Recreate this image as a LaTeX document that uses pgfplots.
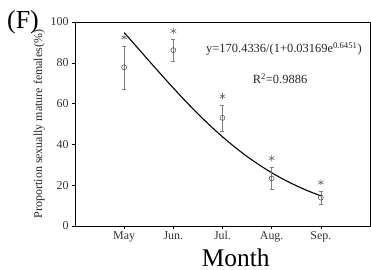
\documentclass[border=0pt]{standalone}
\usepackage{fontspec}
\setmainfont{Liberation Serif}
\usepackage{pgfplots}
\pgfplotsset{compat=1.18}
\begin{document}
\begin{tikzpicture}
\useasboundingbox (-75bp,-44bp) rectangle (296bp,226bp);
\begin{axis}[
  at={(0,0)}, anchor=south west,
  scale only axis, width=295bp, height=204bp,
  xmin=-1, xmax=5, ymin=0, ymax=100,
  xtick={0,1,2,3,4},
  xticklabels={May,Jun.,Jul.,Aug.,Sep.},
  ytick={0,20,40,60,80,100},
  tick align=outside, major tick length=3bp,
  xtick pos=bottom, ytick pos=left,
  axis line style={line width=0.8pt},
  tick style={black, line width=0.6pt},
  ticklabel style={font=\fontsize{12}{14}\selectfont, text=black!80},
  xticklabel style={yshift=1bp},
  /pgf/number format/assume math mode=true,
  xlabel={Month},
  xlabel style={font=\fontsize{25.5}{28}\selectfont, at={(axis description cs:0.545,0)}, anchor=base, yshift=-40bp, inner sep=0pt},
  ylabel={Proportion sexually mature females(\%)},
  ylabel style={font=\fontsize{12}{14}\selectfont, yshift=-1bp, text=black!85},
  clip=false,
]
\addplot[black, line width=1.1pt, smooth] coordinates {
(0,94.80) (0.25,87.98) (0.5,81.11) (0.75,74.30) (1,67.63) (1.25,61.17) (1.5,55.00) (1.75,49.17)
(2,43.72) (2.25,38.69) (2.5,34.08) (2.75,29.90) (3,26.12) (3.25,22.75) (3.5,19.76) (3.75,17.11) (4,14.78)
};
\addplot[only marks, mark=o, mark size=2.5bp, black!85,
  error bars/.cd, y dir=both, y explicit,
  error bar style={gray, line width=0.6pt},
  error mark options={rotate=90, mark size=2bp, gray}]
coordinates {
(0,77.8) +- (0,10.5)
(1,86.2) +- (0,5.2)
(2,53.0) +- (0,6.3)
(3,23.3) +- (0,5.3)
(4,13.9) +- (0,3.2)
};
\addplot[only marks, mark=asterisk, mark size=3.2bp, gray!85!black, line width=0.6pt] coordinates {
(0,92.5) (1,95.6) (2,63.6) (3,33.2) (4,21.3)
};
\node[font=\fontsize{12.5}{14}\selectfont, text=black!85] at (axis cs:3.25,86.8) {y=170.4336/(1+0.03169e\textsuperscript{0.6451})};
\node[font=\fontsize{12.5}{14}\selectfont, text=black!85] at (axis cs:3.17,72.2) {R\textsuperscript{2}=0.9886};
\end{axis}
\node[font=\fontsize{26}{28}\selectfont, anchor=base west, inner sep=0pt] at (-68bp,197bp) {(F)};
\end{tikzpicture}
\end{document}
